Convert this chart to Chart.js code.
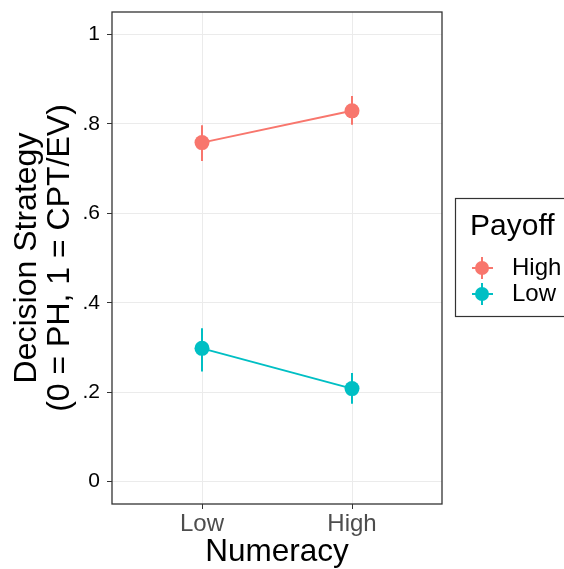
<!DOCTYPE html>
<html>
<head>
<meta charset="utf-8">
<script src="https://cdn.jsdelivr.net/npm/chart.js@4"></script>
<style>
  html, body { margin: 0; padding: 0; background: #ffffff; }
  #wrap { width: 564px; height: 569px; position: relative; }
</style>
</head>
<body>
<div id="wrap"><canvas id="c" width="564" height="569"></canvas></div>
<script>
// ---- Data ----
const numeracy = ['Low', 'High'];
const payoffLevels = ['High', 'Low'];
const highPayoffMean  = [0.758, 0.829];
const highPayoffLower = [0.717, 0.798];
const highPayoffUpper = [0.797, 0.862];
const lowPayoffMean   = [0.298, 0.208];
const lowPayoffLower  = [0.246, 0.174];
const lowPayoffUpper  = [0.343, 0.243];
const yTickValues = [0, 0.2, 0.4, 0.6, 0.8, 1];
const yTickLabels = ['0', '.2', '.4', '.6', '.8', '1'];

const colors = ['#F8766D', '#00BFC4'];
const FONT = '"Liberation Sans", Arial, Helvetica, sans-serif';

function toPoints(arr) { return arr.map((v, i) => ({ x: i + 1, y: v })); }

const seriesMeans  = [highPayoffMean, lowPayoffMean];
const seriesLower  = [highPayoffLower, lowPayoffLower];
const seriesUpper  = [highPayoffUpper, lowPayoffUpper];

const errorBarPlugin = {
  id: 'errorBars',
  afterDatasetsDraw(chart) {
    const ctx = chart.ctx;
    const xs = chart.scales.x, ys = chart.scales.y;
    ctx.save();
    seriesMeans.forEach((means, s) => {
      ctx.strokeStyle = colors[s];
      ctx.fillStyle = colors[s];
      ctx.lineWidth = 2;
      means.forEach((m, i) => {
        const px = xs.getPixelForValue(i + 1);
        ctx.beginPath();
        ctx.moveTo(px, ys.getPixelForValue(seriesLower[s][i]));
        ctx.lineTo(px, ys.getPixelForValue(seriesUpper[s][i]));
        ctx.stroke();
        ctx.beginPath();
        ctx.arc(px, ys.getPixelForValue(m), 7.5, 0, Math.PI * 2);
        ctx.fill();
      });
    });
    // panel border
    const a = chart.chartArea;
    ctx.strokeStyle = '#333333';
    ctx.lineWidth = 1.3;
    ctx.strokeRect(a.left, a.top, a.right - a.left, a.bottom - a.top);
    ctx.restore();
  }
};

const legendPlugin = {
  id: 'ggLegend',
  afterDraw(chart) {
    const ctx = chart.ctx;
    ctx.save();
    // box
    ctx.strokeStyle = '#333333';
    ctx.lineWidth = 1.2;
    ctx.strokeRect(455.5, 198.5, 130, 118);
    // title
    ctx.fillStyle = '#000000';
    ctx.textAlign = 'left';
    ctx.textBaseline = 'alphabetic';
    ctx.font = '30px ' + FONT;
    ctx.fillText('Payoff', 470, 234.5);
    ctx.font = '24px ' + FONT;
    const ys = [268, 294];
    payoffLevels.forEach((lab, i) => {
      const cx = 482, cy = ys[i];
      ctx.strokeStyle = colors[i];
      ctx.fillStyle = colors[i];
      ctx.lineWidth = 2;
      ctx.beginPath();
      ctx.moveTo(472, cy); ctx.lineTo(493, cy);
      ctx.moveTo(cx, cy - 11); ctx.lineTo(cx, cy + 11);
      ctx.stroke();
      ctx.beginPath();
      ctx.arc(cx, cy, 7, 0, Math.PI * 2);
      ctx.fill();
      ctx.fillStyle = '#000000';
      ctx.textBaseline = 'middle';
      ctx.fillText(lab, 512, cy);
    });
    ctx.restore();
  }
};

new Chart(document.getElementById('c'), {
  type: 'line',
  data: {
    datasets: payoffLevels.map((p, s) => ({
      label: p,
      data: toPoints(seriesMeans[s]),
      borderColor: colors[s],
      backgroundColor: colors[s],
      borderWidth: 2,
      pointRadius: 0,
      pointHoverRadius: 0,
      tension: 0
    }))
  },
  options: {
    responsive: false,
    animation: false,
    events: [],
    layout: { padding: { left: 0, right: 122, top: 12, bottom: 0 } },
    plugins: { legend: { display: false }, tooltip: { enabled: false } },
    scales: {
      x: {
        type: 'linear',
        min: 0.4,
        max: 2.6,
        afterBuildTicks(scale) { scale.ticks = numeracy.map((_, i) => ({ value: i + 1 })); },
        afterFit(scale) { scale.height = 65; scale.paddingLeft = 0; scale.paddingRight = 0; },
        ticks: {
          callback: (v) => numeracy[Math.round(v) - 1] ?? '',
          color: '#4d4d4d',
          font: { family: FONT, size: 24 },
          padding: 1,
          maxRotation: 0,
          autoSkip: false
        },
        grid: { color: '#ebebeb', lineWidth: 1, tickColor: '#333333', tickLength: 5, drawTicks: true },
        border: { display: false },
        title: {
          display: true,
          text: 'Numeracy',
          color: '#000000',
          font: { family: FONT, size: 31.5, lineHeight: 1.1 },
          padding: { top: 0, bottom: -1 }
        }
      },
      y: {
        type: 'linear',
        min: -0.05,
        max: 1.05,
        afterBuildTicks(scale) { scale.ticks = yTickValues.map(v => ({ value: v })); },
        afterFit(scale) { scale.width = 112; scale.paddingTop = 0; scale.paddingBottom = 0; },
        ticks: {
          callback: (v) => { const i = yTickValues.findIndex(t => Math.abs(t - v) < 1e-9); return i >= 0 ? yTickLabels[i] : ''; },
          color: '#000000',
          font: { family: FONT, size: 21 },
          padding: 7,
          autoSkip: false
        },
        grid: { color: '#ebebeb', lineWidth: 1, tickColor: '#333333', tickLength: 5, drawTicks: true },
        border: { display: false },
        title: {
          display: true,
          text: ['Decision Strategy', '(0 = PH, 1 = CPT/EV)'],
          color: '#000000',
          font: { family: FONT, size: 32, lineHeight: 1.03 },
          padding: { top: 10.5, bottom: 0 }
        }
      }
    }
  },
  plugins: [errorBarPlugin, legendPlugin]
});
</script>
</body>
</html>
